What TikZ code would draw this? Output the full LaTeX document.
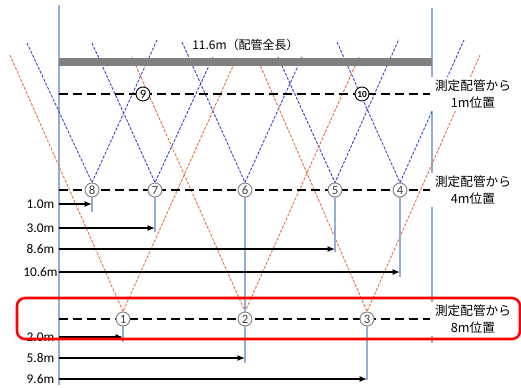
\documentclass[tikz,border=0pt]{standalone}
\usepackage{fontspec}
\setmainfont{Carlito}
\newfontfamily\jp{Noto Sans CJK JP}
\usetikzlibrary{positioning,backgrounds,arrows.meta}
\definecolor{pipeblue}{RGB}{145,175,212}
\definecolor{waveblue}{RGB}{70,70,200}
\definecolor{wavered}{RGB}{238,110,80}
\tikzset{
  >={Latex[length=5.5pt,width=4.5pt]},
  pipeline/.style={draw=pipeblue,line width=1.6pt},
  drop/.style={draw=pipeblue,line width=1pt},
  spot/.style={circle,draw=gray,fill=white,text=black!75,line width=0.7pt,inner sep=0pt,
    minimum size=10.5pt,font=\fontsize{9.5}{9.5}\selectfont},
  mline/.style={black,line width=1.5pt,dash pattern=on 6.75pt off 3.75pt},
  meas/.style={->,black,line width=1.3pt},
  bluewave/.style={draw=waveblue,line width=0.7pt,dash pattern=on 2.2pt off 1.1pt},
  redwave/.style={draw=wavered,line width=0.7pt,dash pattern=on 2.2pt off 1.1pt},
  posnote/.style={fill=white,align=center,inner xsep=4pt,inner ysep=2pt,
    font=\jp\fontsize{9.5}{12.5}\selectfont},
  pipebar/.style={fill=gray,minimum width=279.75pt,minimum height=6pt,inner sep=0pt},
}
\tikzstyle{every node}=[font=\fontsize{10}{12}\selectfont]

\begin{document}
\begin{tikzpicture}[x=0.75pt,y=-0.75pt]
  \useasboundingbox (0,0) rectangle (521,387);
  % pipe and its length
  \coordinate (top) at (59,5);   \coordinate (bot) at (59,385);
  \coordinate (rtop) at (432,8); \coordinate (rbot) at (432,343);
  \node[pipebar] (pipe) at (245.5,62) {};
  \node[above=4pt of pipe,inner sep=1pt,font=\jp\fontsize{9}{11}\selectfont] (total) {11.6m（配管全長）};

  % measuring points
  \node[spot] (p1) at (123,319) {1};
  \node[spot] (p2) at (245,319) {2};
  \node[spot] (p3) at (367,319) {3};
  \node[spot] (p4) at (400,190) {4};
  \node[spot] (p5) at (335,190) {5};
  \node[spot] (p6) at (245,190) {6};
  \node[spot] (p7) at (155,190) {7};
  \node[spot] (p8) at (92,190) {8};
  \node[spot,draw=black,text=black] (p9) at (143,94) {9};
  \node[spot,draw=black,text=black,font=\fontsize{7}{7}\selectfont\bfseries] (p10) at (362,94) {10};

  % ends of the wave lines
  \coordinate (b8l) at (27,43);   \coordinate (b8r) at (157,40);
  \coordinate (b7l) at (92,43);   \coordinate (b7r) at (213,57);
  \coordinate (b6l) at (182,42);  \coordinate (b6r) at (302,57);
  \coordinate (b5l) at (278,57);  \coordinate (b5r) at (399,39);
  \coordinate (b4l) at (337,42);  \coordinate (b4r) at (464,40);
  \coordinate (r1l) at (10,55);   \coordinate (r1r) at (237,57);
  \coordinate (r2l) at (132,57);  \coordinate (r2r) at (359,57);
  \coordinate (r3l) at (257,58);  \coordinate (r3r) at (480,55);

  % ends of the drops
  \coordinate (e8) at (92,212);  \coordinate (e7) at (155,232);
  \coordinate (e5) at (335,252); \coordinate (e4) at (400,277);
  \coordinate (e1) at (123,342); \coordinate (e2) at (245,363);
  \coordinate (e3) at (367,380);

  \begin{scope}[on background layer]
    \draw[pipeline] (top) -- (bot);
    \draw[pipeline] (rtop) -- (rbot);
    \draw[bluewave] (b8l) -- (p8.north) -- (b8r);
    \draw[bluewave] (b7l) -- (p7.north) -- (b7r);
    \draw[bluewave] (b6l) -- (p6.north) -- (b6r);
    \draw[bluewave] (b5l) -- (p5.north) -- (b5r);
    \draw[bluewave] (b4l) -- (p4.north) -- (b4r);
    \draw[redwave] (r1l) -- (p1.north) -- (r1r);
    \draw[redwave] (r2l) -- (p2.north) -- (r2r);
    \draw[redwave] (r3l) -- (p3.north) -- (r3r);
    \draw[mline] (top |- p9) -- (rtop |- p9);
    \draw[mline] (top |- p8) -- (rtop |- p8);
    \draw[mline] (top |- p1) -- (rtop |- p1);
  \end{scope}

  \draw[drop] (p8) -- (e8);
  \draw[drop] (p7) -- (e7);
  \draw[drop] (p6) -- (p2);
  \draw[drop] (p5) -- (e5);
  \draw[drop] (p4) -- (e4);
  \draw[drop] (p1) -- (e1);
  \draw[drop] (p2) -- (e2);
  \draw[drop] (p3) -- (e3);

  % distances from the pipe end
  \node (d8) at (40.5,204) {1.0m};
  \node (d7) at (40.5,228) {3.0m};
  \node (d5) at (40.5,249) {8.6m};
  \node (d4) at (40.5,272) {10.6m};
  \node (d1) at (40.5,337) {2.0m};
  \node (d2) at (40.5,358) {5.8m};
  \node (d3) at (40.5,379) {9.6m};
  \draw[meas] (d8 -| top) -- (d8 -| p8);
  \draw[meas] (d7 -| top) -- (d7 -| p7);
  \draw[meas] (d5 -| top) -- (d5 -| p5);
  \draw[meas] (d4 -| top) -- (d4 -| p4);
  \draw[meas] (d1 -| top) -- (d1 -| p1);
  \draw[meas] (d2 -| top) -- (d2 -| p2);
  \draw[meas] (d3 -| top) -- (d3 -| p3);

  \node[posnote] (n1) at (473,94) {測定配管から\\1m位置};
  \node[posnote] (n4) at (473,190) {測定配管から\\4m位置};
  \node[posnote] (n8) at (473,319) {測定配管から\\8m位置};

  \draw[red,line width=1.9pt,rounded corners=6pt] (17,298) rectangle (520,339);
\end{tikzpicture}
\end{document}
